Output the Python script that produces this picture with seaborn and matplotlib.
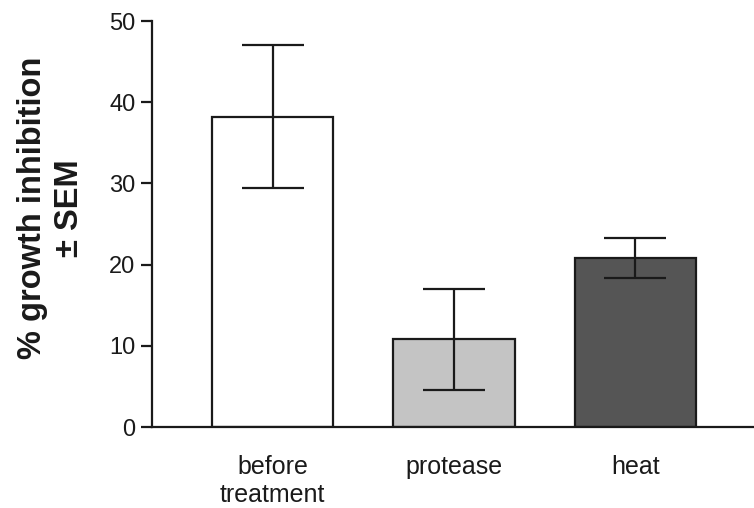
import matplotlib
matplotlib.use("Agg")
import matplotlib.pyplot as plt
import seaborn as sns
import pandas as pd

# === DONNÉES ===
categories = ["before\ntreatment", "protease", "heat"]
inhibition = [38.2, 10.8, 20.8]
sem = [8.8, 6.2, 2.5]
bar_colors = ["#ffffff", "#c4c4c4", "#555555"]

df = pd.DataFrame({"group": categories, "inhibition": inhibition, "sem": sem})

sns.set_style("ticks")
plt.rcParams["font.family"] = ["Liberation Sans", "DejaVu Sans"]

fig = plt.figure(figsize=(7.54, 5.08), dpi=100)
ax = fig.add_axes([0.2016, 0.1594, 0.7984, 0.7992])

sns.barplot(data=df, x="group", y="inhibition", hue="group", palette=bar_colors,
            legend=False, width=0.67, edgecolor="#1a1a1a", linewidth=1.6,
            errorbar=None, ax=ax)

ax.errorbar(range(len(categories)), df["inhibition"], yerr=df["sem"], fmt="none",
            ecolor="#1a1a1a", elinewidth=1.6, capsize=22, capthick=1.6)

ax.set_ylim(0, 50)
ax.set_xlim(-0.666, 2.655)
ax.set_yticks([0, 10, 20, 30, 40, 50])
sns.despine(ax=ax)
for s in ["left", "bottom"]:
    ax.spines[s].set_linewidth(1.6)
    ax.spines[s].set_color("#1a1a1a")

ax.tick_params(axis="y", length=8, width=1.6, color="#1a1a1a", labelsize=17,
               pad=4, labelcolor="#1a1a1a")
ax.tick_params(axis="x", length=0, labelsize=18, pad=20, labelcolor="#1a1a1a")

ax.set_xlabel("")
ax.set_ylabel("% growth inhibition\n± SEM", fontsize=23.5, fontweight="bold",
              linespacing=1.25, color="#1a1a1a")
ax.yaxis.set_label_coords(-0.111, 0.54)

plt.savefig("out.png", dpi=100)
plt.close()
